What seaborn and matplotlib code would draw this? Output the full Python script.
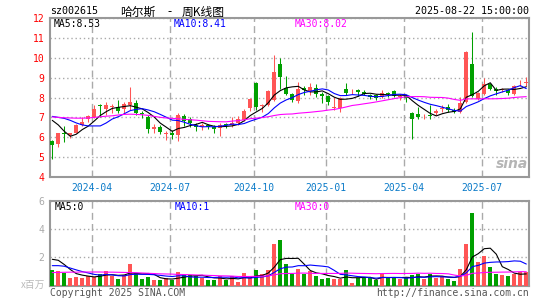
import numpy as np
import pandas as pd
import matplotlib
matplotlib.use("Agg")
import matplotlib.pyplot as plt
import seaborn as sns

# weekly candles, 2024-02-08 .. 2025-08-22 (80 bars)
opens = [5.82, 5.67, 6.2, 6.12, 6.23, 6.63, 6.9, 7.0, 7.62, 7.4,
         7.5, 7.5, 7.4, 7.63, 7.7, 7.22, 7.0, 6.4, 6.53, 6.18,
         6.23, 6.12, 7.07, 6.9, 6.62, 6.5, 6.6, 6.53, 6.45, 6.65,
         6.62, 6.7, 6.87, 7.45, 8.73, 7.55, 7.62, 7.87, 9.67, 8.48,
         8.17, 7.8, 8.5, 8.32, 8.5, 8.17, 8.07, 7.48, 7.48, 8.42,
         8.27, 8.37, 8.27, 8.13, 8.13, 8.03, 8.22, 8.32, 8.03, 8.08,
         7.23, 7.15, 7.05, 7.1, 7.2, 7.43, 7.53, 7.37, 7.28, 7.78,
         9.67, 7.9, 8.2, 8.67, 8.42, 8.38, 8.37, 8.2, 8.67, 8.75]
highs = [5.87, 6.22, 6.57, 6.22, 6.65, 7.0, 7.1, 7.62, 7.65, 7.78,
         7.65, 7.87, 7.78, 8.53, 7.87, 7.3, 7.12, 6.67, 6.62, 6.3,
         6.37, 7.2, 7.17, 7.0, 6.7, 6.7, 6.67, 6.62, 6.7, 6.73,
         7.0, 7.07, 7.42, 8.0, 8.78, 7.67, 8.37, 10.12, 10.0, 9.07,
         8.25, 8.78, 8.57, 8.73, 8.7, 8.28, 8.15, 8.03, 8.03, 8.73,
         8.45, 8.45, 8.37, 8.2, 8.2, 8.4, 8.3, 8.37, 8.2, 8.15,
         7.28, 7.5, 7.17, 7.62, 7.4, 7.62, 7.67, 7.45, 8.03, 10.33,
         11.28, 8.28, 9.0, 8.73, 8.53, 8.5, 8.45, 8.62, 8.87, 9.03]
lows = [4.9, 5.53, 5.78, 5.95, 6.2, 6.55, 6.75, 6.95, 7.0, 7.12,
        7.2, 7.2, 7.2, 7.35, 7.12, 6.95, 6.2, 6.2, 6.17, 5.87,
        5.9, 5.83, 6.55, 6.5, 6.33, 6.35, 6.43, 6.2, 6.05, 6.48,
        6.52, 6.6, 6.8, 7.3, 7.37, 7.28, 7.57, 7.83, 8.45, 8.12,
        7.77, 7.73, 8.12, 8.12, 8.03, 7.73, 7.62, 7.37, 7.28, 8.12,
        8.2, 8.07, 8.12, 7.9, 7.87, 7.95, 8.03, 8.03, 7.87, 7.78,
        5.9, 6.93, 6.9, 6.9, 7.12, 7.28, 7.28, 7.2, 7.2, 7.73,
        8.03, 7.87, 8.12, 8.37, 8.12, 8.28, 8.12, 8.12, 8.57, 8.57]
closes = [5.6, 6.2, 6.14, 6.2, 6.62, 6.77, 7.07, 7.43, 7.58, 7.6,
          7.58, 7.33, 7.65, 7.78, 7.22, 7.15, 6.4, 6.53, 6.25, 6.2,
          6.1, 7.12, 6.8, 6.73, 6.5, 6.6, 6.52, 6.4, 6.62, 6.6,
          6.72, 6.9, 7.33, 7.92, 7.5, 7.6, 8.32, 9.28, 9.03, 8.2,
          7.85, 8.45, 8.38, 8.53, 8.2, 8.1, 7.75, 7.5, 7.98, 8.25,
          8.3, 8.27, 8.2, 8.05, 8.0, 8.25, 8.18, 8.08, 8.08, 7.95,
          6.9, 7.0, 7.07, 7.07, 7.33, 7.45, 7.37, 7.28, 7.7, 10.28,
          8.07, 8.23, 8.67, 8.45, 8.35, 8.4, 8.25, 8.57, 8.7, 8.78]
# volume, millions of shares
volumes = [1.11, 1.04, 0.92, 0.57, 0.64, 0.57, 0.69, 0.64, 0.83, 1.04,
           0.69, 0.47, 0.76, 1.54, 0.92, 0.47, 0.64, 0.4, 0.4, 0.52,
           0.4, 0.95, 0.76, 0.76, 0.69, 0.52, 0.4, 0.4, 0.69, 0.4,
           0.69, 0.24, 0.87, 0.57, 1.11, 0.83, 1.11, 2.95, 3.24, 1.54,
           0.8, 1.18, 0.83, 1.04, 0.69, 0.47, 0.57, 0.47, 0.47, 1.11,
           0.21, 0.57, 0.57, 0.52, 0.4, 0.9, 0.52, 0.57, 0.47, 0.52,
           0.76, 0.83, 0.47, 0.83, 0.57, 0.69, 0.47, 0.35, 1.18, 2.95,
           5.18, 1.7, 2.1, 1.35, 0.83, 0.76, 0.69, 0.83, 0.95, 0.95]

# moving-average values before a full window exists
ma5_head = [6.85, 6.62, 6.3, 6.05]
ma10_head = [7.05, 7.0, 6.95, 6.85, 6.72, 6.62, 6.57, 6.57, 6.57]
ma30_head = [7.02, 7.0, 6.98, 6.97, 6.96, 6.96, 6.97, 7.0, 7.03, 7.06,
             7.08, 7.12, 7.15, 7.16, 7.15, 7.13, 7.1, 7.05, 7.0, 6.97,
             6.95, 6.93, 6.9, 6.88, 6.86, 6.83, 6.8, 6.79, 6.78]
vma5_head = [1.87, 1.8, 1.5, 1.15]
vma10_head = [1.42, 1.42, 1.38, 1.25, 1.12, 1.0, 0.9, 0.8, 0.75]
vma30_head = [0.93, 0.94, 0.95, 0.96, 0.96, 0.97, 0.97, 0.97, 0.97, 0.96,
              0.96, 0.95, 0.94, 0.93, 0.92, 0.9, 0.88, 0.86, 0.84, 0.83,
              0.82, 0.8, 0.79, 0.78, 0.76, 0.75, 0.73, 0.72, 0.7]

tick_bars = [7, 20, 34, 46, 59, 72]
tick_labels = ["2024-04", "2024-07", "2024-10", "2025-01", "2025-04", "2025-07"]

RED = "#ff5555"
GREEN = "#00a000"
GRID = "#aaaaaa"

df = pd.DataFrame({"o": opens, "h": highs, "l": lows, "c": closes, "v": volumes})
df["i"] = np.arange(len(df))
df["up"] = np.where(df["c"] >= df["o"], "up", "down")


def moving(values, n, head):
    r = pd.Series(values).rolling(n).mean()
    r.iloc[:n - 1] = head
    return r


sns.set_style("white")
plt.rcParams["font.family"] = ["DejaVu Sans Mono", "Noto Sans CJK SC"]

fig = plt.figure(figsize=(5.45, 3.0), dpi=100)
ax = fig.add_axes([50 / 545, 1 - 177 / 300, 479 / 545, 159 / 300])
axv = fig.add_axes([50 / 545, 1 - 285.7 / 300, 479 / 545, 84.7 / 300])

# candles
cols = [RED if u == "up" else GREEN for u in df["up"]]
ax.vlines(df["i"], df["l"], df["h"], colors=cols, lw=0.75, zorder=3)
body = (df["c"] - df["o"]).abs().clip(lower=0.03)
ax.bar(df["i"], body, bottom=df[["o", "c"]].min(axis=1), width=0.68,
       color=cols, linewidth=0, zorder=4)

for n, head, col in [(5, ma5_head, "black"), (10, ma10_head, "#0000ff"),
                     (30, ma30_head, "#ff00ff")]:
    sns.lineplot(x=df["i"], y=moving(closes, n, head), ax=ax, color=col,
                 lw=0.8, zorder=5)

# volume
sns.barplot(data=df, x="i", y="v", hue="up", palette={"up": RED, "down": GREEN},
            native_scale=True, dodge=False, width=0.72, legend=False, ax=axv,
            linewidth=0, saturation=1, zorder=3)
for n, head, col in [(5, vma5_head, "black"), (10, vma10_head, "#0000ff"),
                     (30, vma30_head, "#ff00ff")]:
    sns.lineplot(x=df["i"], y=moving(volumes, n, head), ax=axv, color=col,
                 lw=0.8, zorder=5)

tick_pos = [b - 0.33 for b in tick_bars]
for a in (ax, axv):
    a.set_xlim(-0.38, 79.45)
    a.set_xticks(tick_pos)
    a.grid(axis="x", color=GRID, ls=(0, (5, 3)), lw=1)
    a.grid(axis="y", color=GRID, ls=(0, (1, 2)), lw=1)
    a.set_xlabel("")
    a.set_ylabel("")
    for s in a.spines.values():
        s.set_color("#999999")
        s.set_linewidth(1.5)

ax.set_ylim(4, 12)
ax.set_yticks(range(4, 13))
ax.tick_params(axis="y", labelcolor="red", labelsize=7, length=0, pad=4)
ax.set_xticklabels(tick_labels)
ax.tick_params(axis="x", labelcolor="#0a7ac8", labelsize=7, length=3,
               direction="in", color="#aaaaaa", pad=4)

axv.set_ylim(0, 6)
axv.set_yticks([2, 4, 6])
axv.tick_params(axis="y", labelcolor="#aaaaaa", labelsize=7, length=0, pad=4)
axv.set_xticklabels([])
axv.tick_params(axis="x", length=0)


def ftxt(x, y, s, **kw):
    fig.text(x / 545, 1 - y / 300, s, va="center", **kw)


cjk = ["Noto Sans CJK SC", "DejaVu Sans"]
ftxt(50, 11.5, "sz002615", fontsize=7.2, color="black")
ftxt(120, 12, "哈尔斯", fontsize=8.5, color="black", family=cjk)
ftxt(169.5, 12, "-", fontsize=8.5, color="black", family=cjk, ha="center")
ftxt(182, 12, "周K线图", fontsize=8.5, color="black", family=cjk)
ftxt(529, 11.5, "2025-08-22 15:00:00", fontsize=7.2, color="black", ha="right")
ftxt(54, 24, "MA5:8.53", fontsize=7, color="black")
ftxt(174, 24, "MA10:8.41", fontsize=7, color="#0000ff")
ftxt(295, 24, "MA30:8.02", fontsize=7, color="#ff00ff")
ftxt(55, 206.5, "MA5:0", fontsize=7, color="black")
ftxt(175, 206.5, "MA10:1", fontsize=7, color="#0000ff")
ftxt(295, 206.5, "MA30:0", fontsize=7, color="#ff00ff")
ftxt(45, 285, "x百万", fontsize=7, color="#bbbbbb", ha="right", family=cjk)
ftxt(50, 293, "Copyright 2025 SINA.COM", fontsize=7, color="#555555")
ftxt(529, 293, "http://finance.sina.com.cn", fontsize=7, color="#555555", ha="right")
ftxt(512, 164, "sina", fontsize=10, color="#b5b5b5", ha="center",
     family="DejaVu Sans", style="italic", weight="bold")

fig.savefig("out.png", dpi=100)
